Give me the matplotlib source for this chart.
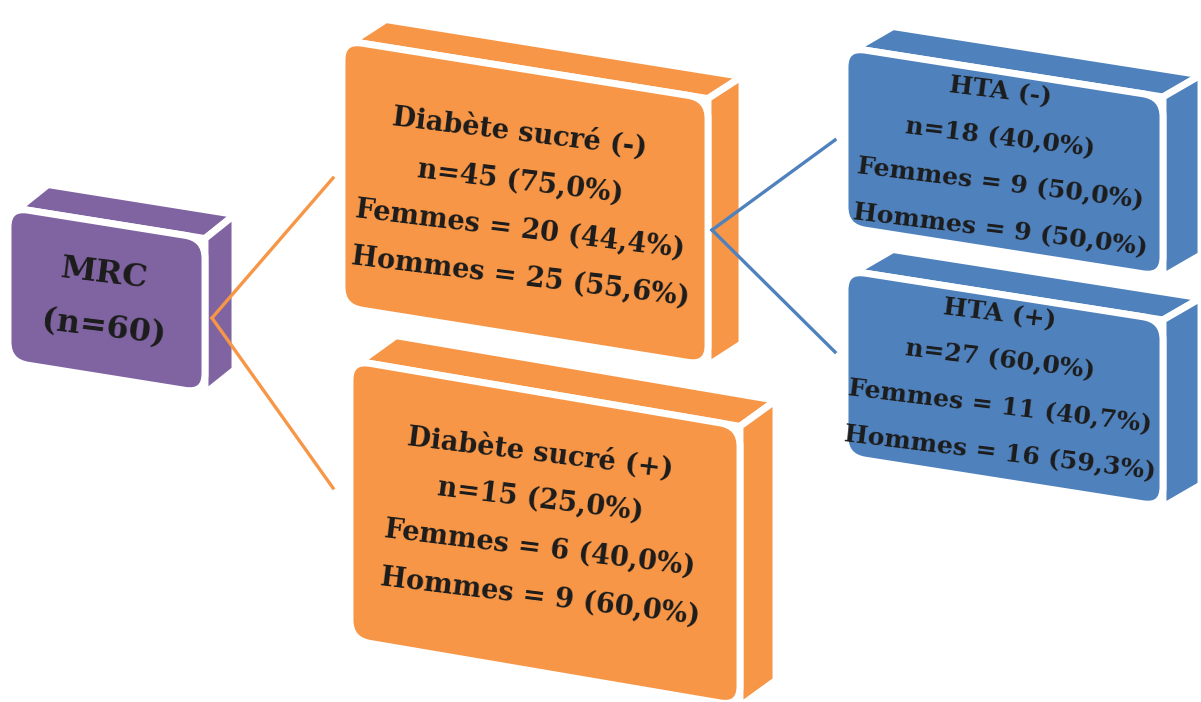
import math
import matplotlib
matplotlib.use('Agg')
import matplotlib.pyplot as plt
from matplotlib.patches import Polygon, FancyBboxPatch
from matplotlib.transforms import Affine2D

# data
total_label = 'MRC'
total_n = 60
groups = ['Diabète sucré (-)', 'Diabète sucré (+)', 'HTA (-)', 'HTA (+)']
n_vals = [45, 15, 18, 27]
n_pct = [75.0, 25.0, 40.0, 60.0]
femmes = [20, 6, 9, 11]
femmes_pct = [44.4, 40.0, 50.0, 40.7]
hommes = [25, 9, 9, 16]
hommes_pct = [55.6, 60.0, 50.0, 59.3]

PURPLE = '#8064A2'
ORANGE = '#F79646'
BLUE = '#4F81BD'
TXT = '#1c1c1c'


def pct(p):
    return f'{p:.1f}'.replace('.', ',')


fig = plt.figure(figsize=(12.01, 7.02), dpi=100)
ax = fig.add_axes([0, 0, 1, 1])
ax.set_xlim(0, 1201)
ax.set_ylim(702, 0)
ax.axis('off')


def box3d(L, R, T, H, s, D, color):
    # front face corners (sheared), top face starts a bit in from the left
    TR = (R, T + s * (R - L))
    BR = (R, T + s * (R - L) + H)
    TL = (L + 10, T + s * 10)
    top = Polygon([TL, TR, (TR[0] + D[0], TR[1] + D[1]), (TL[0] + D[0], TL[1] + D[1])],
                  closed=True, fc=color, ec='white', lw=5, zorder=1)
    side = Polygon([TR, BR, (BR[0] + D[0], BR[1] + D[1]), (TR[0] + D[0], TR[1] + D[1])],
                   closed=True, fc=color, ec='white', lw=5, zorder=1)
    ax.add_patch(top)
    ax.add_patch(side)
    front = FancyBboxPatch((L, T), R - L, H, boxstyle='round,pad=0,rounding_size=20',
                           fc=color, ec='white', lw=5, zorder=2)
    tr = Affine2D().translate(-L, 0).skew(0, math.atan(s)).translate(L, 0)
    front.set_transform(tr + ax.transData)
    ax.add_patch(front)


def lines(x, ys, size, rot=-7):
    for line, y in zip(x[1], ys):
        ax.text(x[0], y, line, fontsize=size, fontweight='bold', family='DejaVu Serif',
                color=TXT, ha='center', va='center', rotation=rot,
                rotation_mode='anchor', zorder=5)


# boxes: L, R, T, H, slope, depth
box3d(8, 205, 207, 155, 0.16, (30, -24), PURPLE)
box3d(342, 708, 40, 267, 0.16, (34, -22), ORANGE)
box3d(350, 740, 360, 280, 0.17, (36, -26), ORANGE)
box3d(845, 1163, 47, 180, 0.157, (38, -22), BLUE)
box3d(845, 1163, 270, 187, 0.157, (38, -22), BLUE)

# connectors
ax.plot([212, 333], [318, 178], color=ORANGE, lw=2.4, zorder=4)
ax.plot([212, 333], [318, 488], color=ORANGE, lw=2.4, zorder=4)
ax.plot([712, 835], [230, 140], color=BLUE, lw=2.4, zorder=4)
ax.plot([712, 835], [230, 352], color=BLUE, lw=2.4, zorder=4)

# texts
lines((104, [total_label, f'(n={total_n})']), [274, 328], 23)

centers = [(520, [133, 182, 230, 277], 19.5),
           (540, [453, 500, 549, 597], 19.5),
           (1000, [92, 138, 184, 230], 18),
           (1000, [314, 360, 407, 453], 18)]
for i, (cx, ys, fs) in enumerate(centers):
    txt = [groups[i],
           f'n={n_vals[i]} ({pct(n_pct[i])}%)',
           f'Femmes = {femmes[i]} ({pct(femmes_pct[i])}%)',
           f'Hommes = {hommes[i]} ({pct(hommes_pct[i])}%)']
    lines((cx, txt), ys, fs)

fig.savefig('out.png', dpi=100)
